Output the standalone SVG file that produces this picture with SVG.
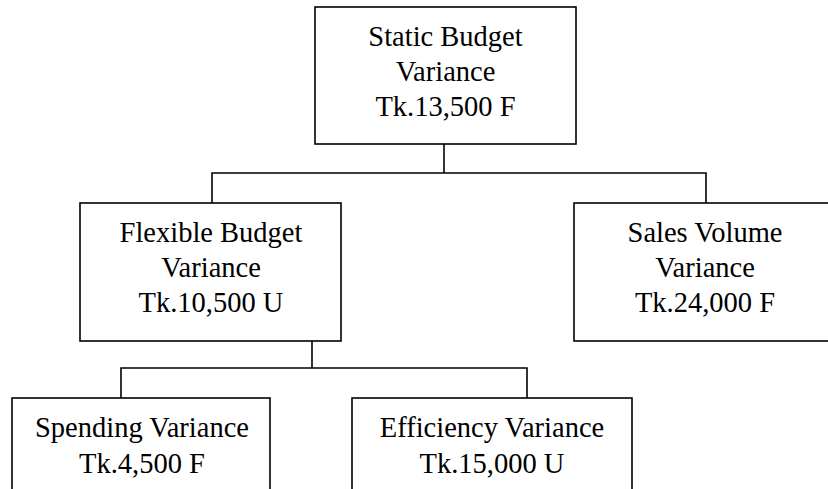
<svg xmlns="http://www.w3.org/2000/svg" width="828" height="489" viewBox="0 0 828 489">
<style>
.box{fill:#fff;stroke:#000;stroke-width:1.6}
.ln{fill:none;stroke:#000;stroke-width:1.6}
text{font-family:"Liberation Serif","Times New Roman",serif;font-size:28.5px;fill:#000;text-anchor:middle}
</style>
<rect width="828" height="489" fill="#fff"/>
<g id="connectors">
<polyline class="ln" points="444,144 444,173"/>
<polyline class="ln" points="212,203 212,173 706,173 706,203"/>
<polyline class="ln" points="312,341 312,368"/>
<polyline class="ln" points="121,398 121,368 527,368 527,398"/>
</g>
<g id="static">
<rect class="box" x="315" y="7" width="261" height="137"/>
<text x="445.5" y="46">Static Budget</text>
<text x="445.5" y="81">Variance</text>
<text x="445.5" y="116">Tk.13,500 F</text>
</g>
<g id="flexible">
<rect class="box" x="80" y="203" width="261" height="138"/>
<text x="211" y="242">Flexible Budget</text>
<text x="211" y="277">Variance</text>
<text x="211" y="312">Tk.10,500 U</text>
</g>
<g id="sales">
<rect class="box" x="574" y="203" width="262" height="138"/>
<text x="705" y="242">Sales Volume</text>
<text x="705" y="277">Variance</text>
<text x="705" y="312">Tk.24,000 F</text>
</g>
<g id="spending">
<rect class="box" x="12" y="398" width="258" height="110"/>
<text x="142" y="437">Spending Variance</text>
<text x="142" y="473">Tk.4,500 F</text>
</g>
<g id="efficiency">
<rect class="box" x="352" y="398" width="280" height="110"/>
<text x="492" y="437">Efficiency Variance</text>
<text x="492" y="473">Tk.15,000 U</text>
</g>
</svg>
